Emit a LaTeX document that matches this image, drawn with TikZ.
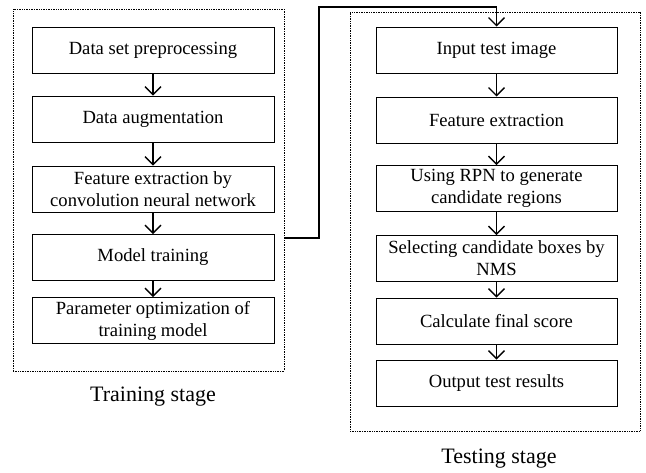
\documentclass[tikz,border=0pt]{standalone}
\usepackage{fontspec}
\setmainfont{Liberation Serif}
\usetikzlibrary{arrows.meta}
\begin{document}
\begin{tikzpicture}[x=1pt,y=-1pt,
  stepbox/.style={draw=black, line width=1pt, fill=white, minimum height=46pt, inner sep=0pt, align=center,
    font=\fontsize{18.6}{22}\selectfont},
  lbox/.style={stepbox, minimum width=242pt},
  rbox/.style={stepbox, minimum width=241pt},
  frame/.style={draw=black, line width=0.7pt, densely dotted, inner sep=0pt},
  arr/.style={draw=black, line width=1.3pt, -{Straight Barb[length=8pt,width=16pt,line width=1.3pt]}},
  stage/.style={font=\fontsize{22}{26}\selectfont}]
\useasboundingbox (0,0) rectangle (646,472);
% frames
\node[frame, minimum width=271pt, minimum height=362pt] (lf) at (148.5,190) {};
\node[frame, minimum width=290pt, minimum height=419pt] (rf) at (495,221.5) {};
% left boxes
\node[lbox] (l1) at (153,50) {Data set preprocessing};
\node[lbox] (l2) at (153,119) {Data augmentation};
\node[lbox] (l3) at (153,189) {Feature extraction by\\convolution neural network};
\node[lbox] (l4) at (153,257.5) {Model training};
\node[lbox] (l5) at (153,320.5) {Parameter optimization of\\training model};
% right boxes
\node[rbox] (r1) at (496.5,50) {Input test image};
\node[rbox] (r2) at (496.5,120) {Feature extraction};
\node[rbox] (r3) at (496.5,188.5) {Using RPN to generate\\candidate regions};
\node[rbox] (r4) at (496.5,258.5) {Selecting candidate boxes by\\NMS};
\node[rbox] (r5) at (496.5,321) {Calculate final score};
\node[rbox] (r6) at (496.5,383) {Output test results};
% labels
\node[stage] (lt) at (153,397) {Training stage};
\node[stage] (rt) at (499,459) {Testing stage};
% arrows
\draw[arr] (l1) -- (l2);
\draw[arr] (l2) -- (l3);
\draw[arr] (l3) -- (l4);
\draw[arr] (l4) -- (l5);
\draw[arr] (r1) -- (r2);
\draw[arr] (r2) -- (r3);
\draw[arr] (r3) -- (r4);
\draw[arr] (r4) -- (r5);
\draw[arr] (r5) -- (r6);
\coordinate (c0) at (284,238);
\coordinate (c1) at (319,7);
\draw[arr] (c0) -| (c1) -| (r1.north);
\end{tikzpicture}
\end{document}
